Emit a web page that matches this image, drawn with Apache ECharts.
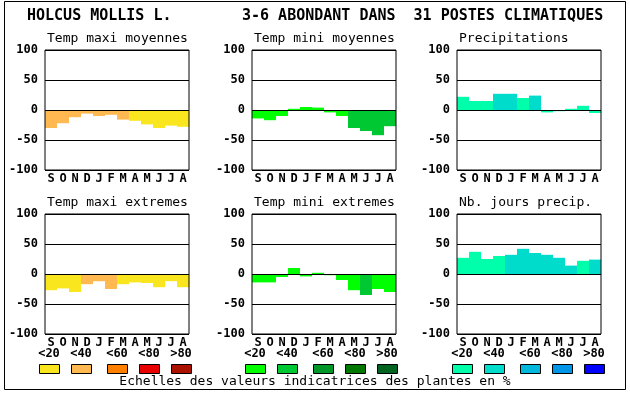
<!DOCTYPE html>
<html><head><meta charset="utf-8">
<script src="https://cdn.jsdelivr.net/npm/echarts@6/dist/echarts.min.js"></script>
<style>html,body{margin:0;padding:0;background:#fff}#c{width:630px;height:394px}</style>
</head><body><div id="c"></div>
<script>
const months = ['S','O','N','D','J','F','M','A','M','J','J','A'];
const classLabels = ['<20','<40','<60','<80','>80'];
const warmColors = ['#fae61e','#ffb950','#ff8000','#e80000','#aa1100'];
const greenColors = ['#00ff00','#00c832','#009628','#007800','#006420'];
const blueColors = ['#00ffaa','#00dccc','#00b8dc','#0096e8','#0000ff'];

const panelTitles = ['Temp maxi moyennes','Temp mini moyennes','Precipitations','Temp maxi extremes','Temp mini extremes','Nb. jours precip.'];

const tmaxMoy    = [-30,-22,-12,-6,-10,-8,-16,-18,-24,-30,-26,-28];
const tmaxMoyCls = [1,1,1,1,1,1,1,0,0,0,0,0];
const tminMoy    = [-14,-17,-10,2,5,4,-4,-10,-30,-35,-42,-27];
const tminMoyCls = [0,0,0,0,0,0,0,0,1,1,1,1];
const precip     = [22,15,15,27,27,20,24,-4,-2,2,7,-5];
const precipCls  = [0,0,0,1,1,0,1,0,0,0,0,0];
const tmaxExt    = [-27,-24,-30,-17,-12,-25,-17,-14,-15,-22,-12,-22];
const tmaxExtCls = [0,0,0,1,1,1,0,0,0,0,0,0];
const tminExt    = [-14,-14,-5,10,-4,2,-2,-10,-27,-35,-25,-30];
const tminExtCls = [0,0,0,0,0,0,0,0,0,1,0,0];
const nbJours    = [27,37,25,30,32,42,35,32,27,14,22,24];
const nbJoursCls = [0,0,0,0,1,1,1,1,1,1,0,1];

const panels = [
  {v: tmaxMoy, c: tmaxMoyCls, pal: warmColors},
  {v: tminMoy, c: tminMoyCls, pal: greenColors},
  {v: precip, c: precipCls, pal: blueColors},
  {v: tmaxExt, c: tmaxExtCls, pal: warmColors},
  {v: tminExt, c: tminExtCls, pal: greenColors},
  {v: nbJours, c: nbJoursCls, pal: blueColors}
];

const FONT = 'DejaVu Sans Mono';
const colLeft = [45, 252, 457];
const rowTop = [50, 214];
const grids = [], xAxes = [], yAxes = [], series = [];
const graphics = [];

panels.forEach((p, i) => {
  const col = i % 3, row = Math.floor(i / 3);
  grids.push({left: colLeft[col], top: rowTop[row], width: 144, height: 120,
    show: true, borderColor: '#000', borderWidth: 1, backgroundColor: 'transparent', z: 10});
  xAxes.push({type: 'category', gridIndex: i, data: months,
    axisLine: {show: false}, axisTick: {show: false}, splitLine: {show: false},
    axisLabel: {interval: 0, color: '#000', fontFamily: FONT, fontWeight: 'bold', fontSize: 12, margin: 3}});
  yAxes.push({type: 'value', gridIndex: i, min: -100, max: 100, interval: 50, z: 10,
    axisLine: {show: false}, axisTick: {show: false},
    splitLine: {show: true, lineStyle: {color: '#000', width: 1}},
    axisLabel: {color: '#000', fontFamily: FONT, fontWeight: 'bold', fontSize: 12, margin: 7}});
  series.push({type: 'bar', xAxisIndex: i, yAxisIndex: i, barCategoryGap: '0%',
    data: p.v.map((v, j) => ({value: v, itemStyle: {color: p.pal[p.c[j]]}}))});
  graphics.push({type: 'text', left: colLeft[col] + 2, top: rowTop[row] - 18,
    style: {text: panelTitles[i], font: '13px "' + FONT + '"', fill: '#000'}});
});

// outer frame
graphics.push({type: 'rect', shape: {x: 4.5, y: 1.5, width: 621, height: 388},
  style: {fill: 'none', stroke: '#000', lineWidth: 1}, z: -1});
// main titles
graphics.push({type: 'text', left: 27, top: 9,
  style: {text: 'HOLCUS MOLLIS L.', font: 'bold 15px "' + FONT + '"', fill: '#000'}});
graphics.push({type: 'text', left: 242, top: 9,
  style: {text: '3-6 ABONDANT DANS  31 POSTES CLIMATIQUES', font: 'bold 15px "' + FONT + '"', fill: '#000'}});

// colour scale legends
const legendBase = [39, 245, 452];
const legendOffsets = [0, 32, 68, 100, 132];
[warmColors, greenColors, blueColors].forEach((pal, g) => {
  pal.forEach((col, k) => {
    const x = legendBase[g] + legendOffsets[k];
    graphics.push({type: 'rect', shape: {x: x + 0.5, y: 364.5, width: 20, height: 9},
      style: {fill: col, stroke: '#000', lineWidth: 1}});
    graphics.push({type: 'text', x: x + 10, y: 354,
      style: {text: classLabels[k], font: 'bold 12px "' + FONT + '"', fill: '#000', align: 'center', verticalAlign: 'middle'}});
  });
});
graphics.push({type: 'text', x: 315, y: 382,
  style: {text: 'Echelles des valeurs indicatrices des plantes en %', font: '13px "' + FONT + '"', fill: '#000', align: 'center', verticalAlign: 'middle'}});

const chart = echarts.init(document.getElementById('c'), null, {renderer: 'canvas'});
chart.setOption({
  animation: false,
  backgroundColor: '#fff',
  grid: grids, xAxis: xAxes, yAxis: yAxes, series: series,
  graphic: graphics
});
</script></body></html>
